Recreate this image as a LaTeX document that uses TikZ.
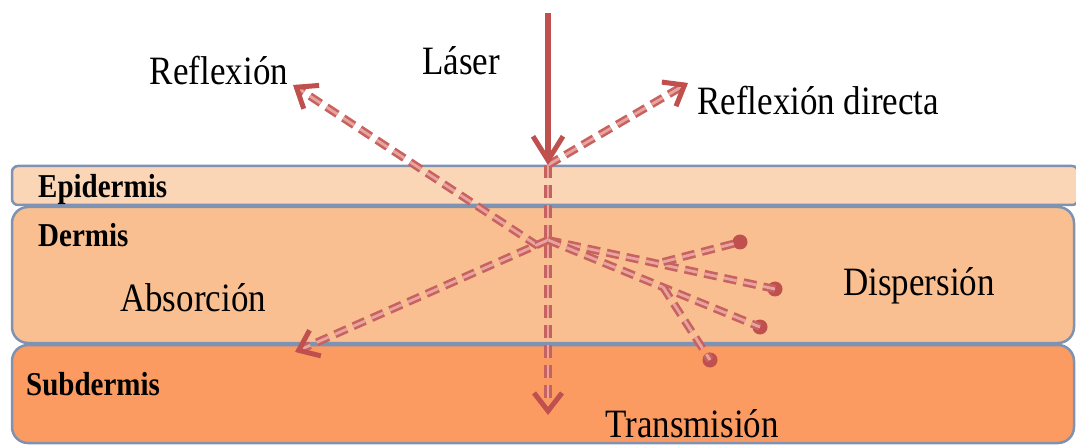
\documentclass[tikz,border=0pt]{standalone}
\usepackage{fontspec}
\setmainfont{Liberation Serif}
\usetikzlibrary{arrows.meta,calc}
\definecolor{ray}{HTML}{C0504D}
\definecolor{rayedge}{HTML}{C8625F}
\definecolor{raycore}{HTML}{E8A4A0}
\definecolor{epi}{HTML}{FBD6B6}
\definecolor{der}{HTML}{F9BF90}
\definecolor{sub}{HTML}{FB9B62}
\definecolor{edge}{HTML}{7F92B2}
\newcommand{\tallt}[1]{\scalebox{1}[1.15]{#1}}
\tikzset{
  layer/.style={draw=edge, line width=2.5pt},
  lbl/.style={inner sep=0pt, font=\fontsize{35}{40}\selectfont},
  blbl/.style={inner sep=0pt, anchor=base west, font=\fontsize{29}{34}\selectfont\bfseries},
  laser/.style={draw=ray, line width=6pt, -{Straight Barb[length=24pt,width=30pt,line width=5pt]}},
  dray/.style={draw=rayedge, line width=2.6pt, double=raycore, double distance=2.8pt, dash pattern=on 13pt off 7pt},
  dtip/.style={draw=ray, line width=5pt, -{Straight Barb[length=18pt,width=28pt,line width=5pt]}},
  dot/.style={circle, fill=ray, inner sep=0pt, minimum size=15pt}
}
\begin{document}
\begin{tikzpicture}[x=1pt,y=-1pt]
\useasboundingbox (0,0) rectangle (1076,446);
% layers
\draw[layer, fill=sub, rounded corners=16pt] (12,345) rectangle (1074,443);
\draw[layer, fill=der, rounded corners=16pt] (12,207) rectangle (1074,343);
\draw[layer, fill=epi, rounded corners=6pt] (12,166) rectangle (1078,205);
% labels
\node[blbl] (epid) at (38,198) {\tallt{Epidermis}};
\node[blbl] (derm) at (38,247) {\tallt{Dermis}};
\node[blbl] (subd) at (26,395) {\tallt{Subdermis}};
\node[lbl, anchor=base] (laserlbl) at (461,75) {\tallt{Láser}};
\node[lbl, anchor=base] (refl) at (219,85) {\tallt{Reflexión}};
\node[lbl, anchor=base west] (refld) at (697,115) {\tallt{Reflexión directa}};
\node[lbl, anchor=base west] (abs) at (120,312) {\tallt{Absorción}};
\node[lbl, anchor=base west] (disp) at (843,295) {\tallt{Dispersión}};
\node[lbl, anchor=base west] (trans) at (605,437) {\tallt{Transmisión}};
% points
\coordinate (top) at (548,13);
\coordinate (hit) at (548,165);
\coordinate (c) at (548,240);
\coordinate (m) at (538,246);
\coordinate (rtip) at (293,85);
\coordinate (rdtip) at (688,83);
\coordinate (atip) at (295,352);
\coordinate (ttip) at (548,415);
\coordinate (k1) at (663,262);
\coordinate (k2) at (663,287);
\node[dot] (d1) at (740,242) {};
\node[dot] (d2) at (775,289) {};
\node[dot] (d3) at (760,327) {};
\node[dot] (d4) at (710,360) {};
% rays
\draw[dray, shorten >=6pt] (hit) -- (ttip);
\draw[dray, shorten >=6pt] (m) -- (rtip);
\draw[dray, shorten >=6pt] (c) -- (atip);
\draw[dray, shorten >=6pt] (hit) -- (rdtip);
\draw[dtip] ($(ttip)!3pt!(hit)$) -- (ttip);
\draw[dtip] ($(rtip)!3pt!(m)$) -- (rtip);
\draw[dtip] ($(atip)!3pt!(c)$) -- (atip);
\draw[dtip] ($(rdtip)!3pt!(hit)$) -- (rdtip);
\draw[dray] (c) -- (d2.center);
\draw[dray] (k1) -- (d1.center);
\draw[dray] (c) -- (d3.center);
\draw[dray] (k2) -- (d4.center);
\draw[laser] (top) -- (hit);
\end{tikzpicture}
\end{document}
